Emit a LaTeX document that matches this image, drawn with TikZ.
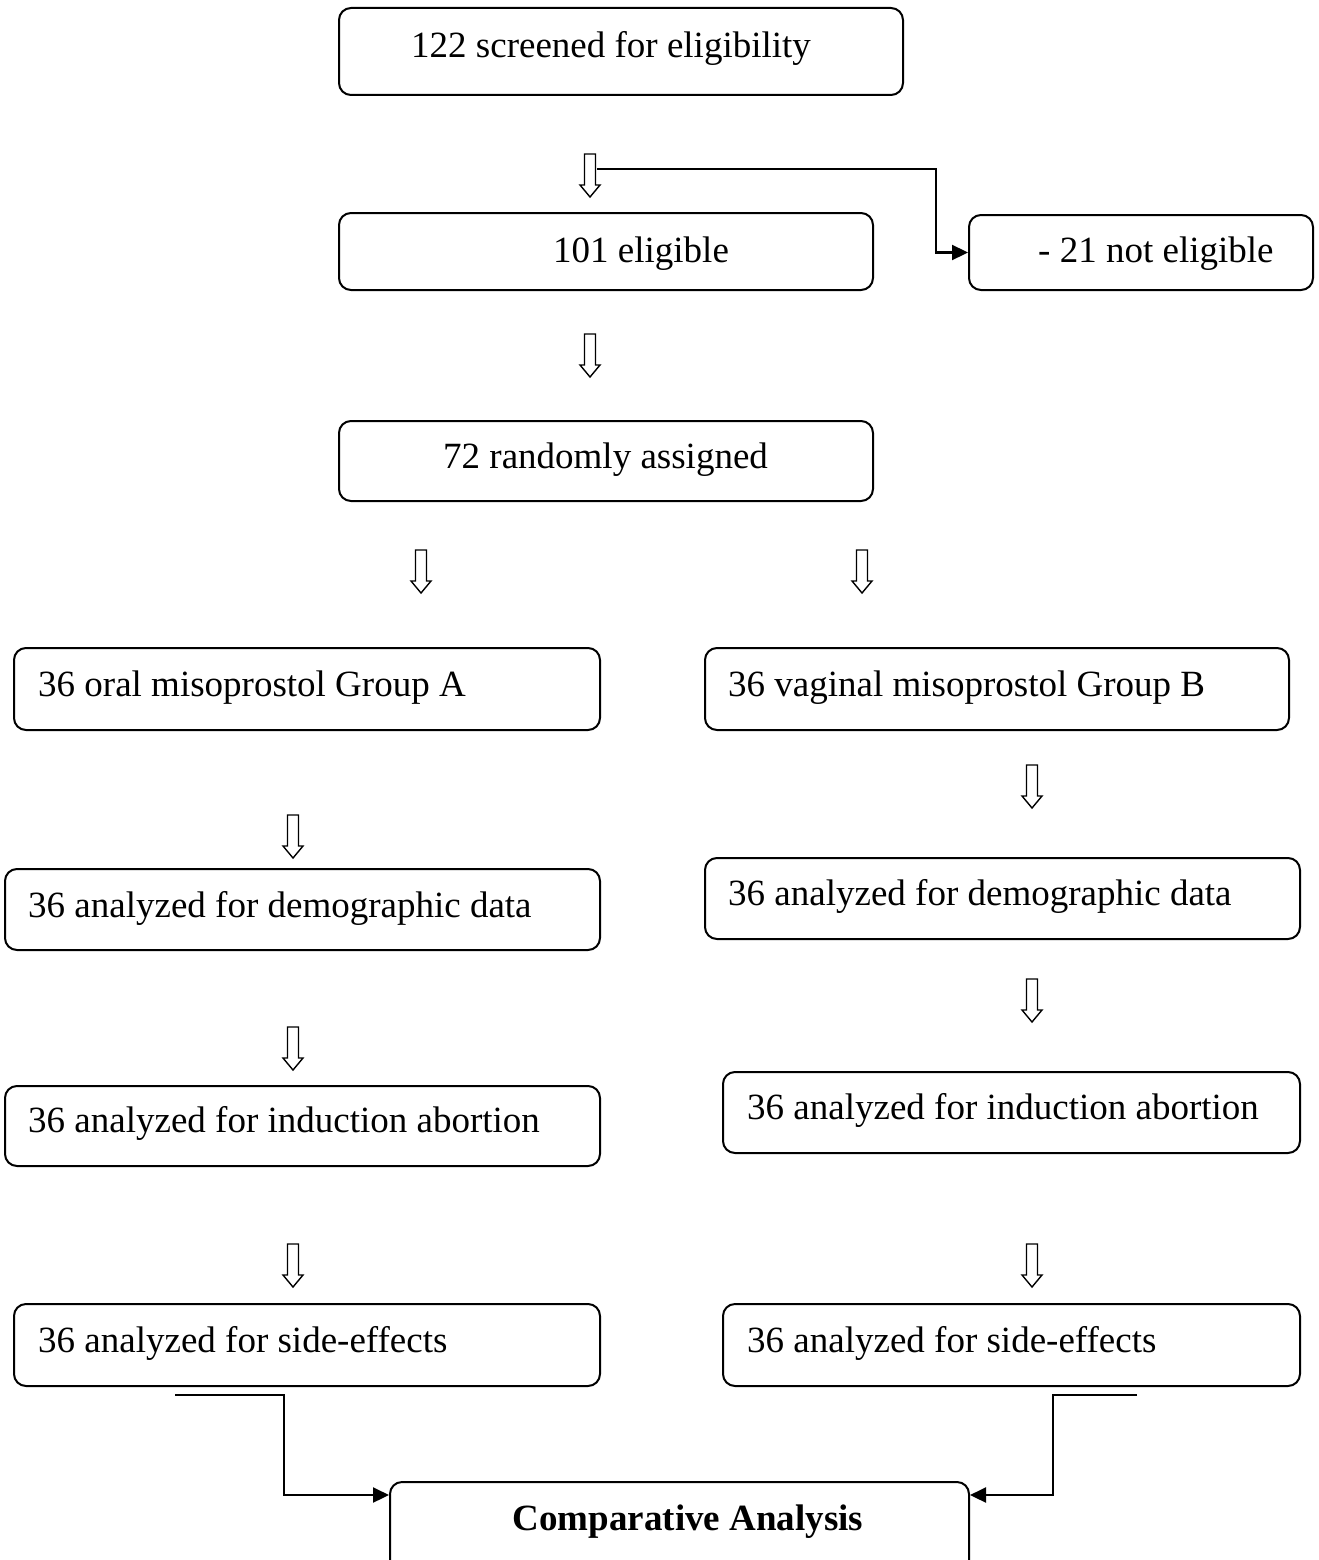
\documentclass[tikz,border=0pt]{standalone}
\usepackage{fontspec}
\setmainfont{Liberation Serif}
\usetikzlibrary{arrows.meta}
\tikzset{
  box/.style={draw, line width=2pt, rounded corners=12pt, inner sep=0pt, fill=none},
  txt/.style={inner sep=0pt, font=\fontsize{37}{44}\selectfont},
  conn/.style={draw, line width=2.2pt, -{Triangle[length=16pt,width=15pt]}},
  harrow/.pic={\draw[line width=1.4pt, line join=miter] (-5.5,0) -- (-5.5,31) -- (-10,31) -- (0,43) -- (10,31) -- (5.5,31) -- (5.5,0) -- cycle;}
}
\begin{document}
\begin{tikzpicture}[x=1pt,y=-1pt]
\useasboundingbox (0,0) rectangle (1319,1560);
\clip (0,0) rectangle (1319,1560);
\fill[white] (0,0) rectangle (1319,1560);

% boxes
\node[box, minimum width=564pt, minimum height=87pt] (b1) at (621,51.5) {};
\node[box, minimum width=534pt, minimum height=77pt] (b2) at (606,251.5) {};
\node[box, minimum width=344pt, minimum height=75pt] (b3) at (1141,252.5) {};
\node[box, minimum width=534pt, minimum height=80pt] (b4) at (606,461) {};
\node[box, minimum width=586pt, minimum height=82pt] (b5) at (307,689) {};
\node[box, minimum width=584pt, minimum height=82pt] (b6) at (997,689) {};
\node[box, minimum width=595pt, minimum height=81pt] (b7) at (302.5,909.5) {};
\node[box, minimum width=595pt, minimum height=81pt] (b8) at (1002.5,898.5) {};
\node[box, minimum width=595pt, minimum height=80pt] (b9) at (302.5,1126) {};
\node[box, minimum width=577pt, minimum height=81pt] (b10) at (1011.5,1112.5) {};
\node[box, minimum width=586pt, minimum height=82pt] (b11) at (307,1345) {};
\node[box, minimum width=577pt, minimum height=82pt] (b12) at (1011.5,1345) {};
\node[box, minimum width=579pt, minimum height=100pt] (b13) at (679.5,1532) {};

% texts
\node[txt, anchor=base west] (t1) at (411,58) {122 screened for eligibility};
\node[txt, anchor=base west] (t2) at (553,262) {101 eligible};
\node[txt, anchor=base west] (t3) at (1038,262) {- 21 not eligible};
\node[txt, anchor=base west] (t4) at (443,468) {72 randomly assigned};
\node[txt, anchor=base west] (t5) at (38,696) {36 oral misoprostol Group A};
\node[txt, anchor=base west] (t6) at (728,696) {36 vaginal misoprostol Group B};
\node[txt, anchor=base west] (t7) at (28,917) {36 analyzed for demographic data};
\node[txt, anchor=base west] (t8) at (728,905) {36 analyzed for demographic data};
\node[txt, anchor=base west] (t9) at (28,1132) {36 analyzed for induction abortion};
\node[txt, anchor=base west] (t10) at (747,1119) {36 analyzed for induction abortion};
\node[txt, anchor=base west] (t11) at (38,1352) {36 analyzed for side-effects};
\node[txt, anchor=base west] (t12) at (747,1352) {36 analyzed for side-effects};
\node[txt, anchor=base, font=\fontsize{37}{44}\selectfont\bfseries] (t13) at (688,1530) {Comparative Analysis};

% hollow arrows
\pic (a1) at (590,154) {harrow};
\pic (a2) at (590,334) {harrow};
\pic (a3) at (421,550) {harrow};
\pic (a4) at (862,550) {harrow};
\pic (a5) at (293,815) {harrow};
\pic (a6) at (1032,765) {harrow};
\pic (a7) at (293,1027) {harrow};
\pic (a8) at (1032,979) {harrow};
\pic (a9) at (293,1244) {harrow};
\pic (a10) at (1032,1244) {harrow};

% connectors
\coordinate (cT1) at (597,169);
\coordinate (cT2) at (936,169);
\draw[conn] (cT1) -- (cT2) |- (b3.west);

\coordinate (cL1) at (175,1395);
\coordinate (cL2) at (284,1495);
\draw[conn] (cL1) -| (cL2) -- (b13.west |- cL2);

\coordinate (cR1) at (1137,1395);
\coordinate (cR2) at (1053,1495);
\draw[conn] (cR1) -| (cR2) -- (b13.east |- cR2);
\end{tikzpicture}
\end{document}
